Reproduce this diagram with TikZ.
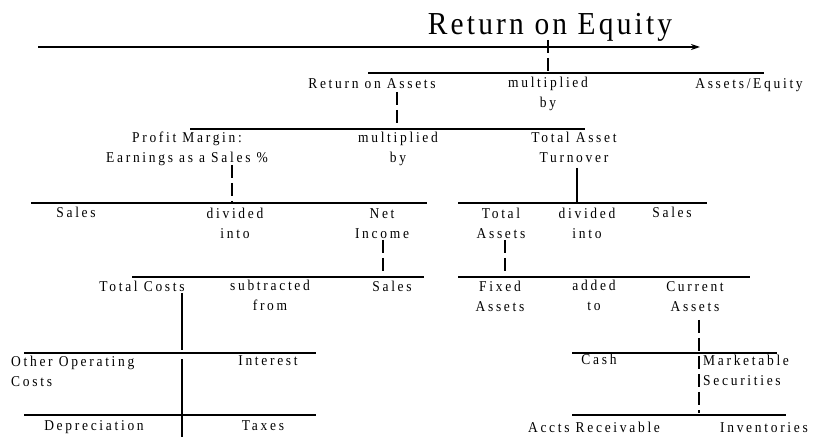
\documentclass[tikz,border=0pt]{standalone}
\usepackage{fontspec}
\setmainfont{Liberation Serif}
\newfontfamily\lblfont[LetterSpace=18,FakeStretch=0.9]{Liberation Serif}
\newfontfamily\ttlfont[LetterSpace=10,FakeStretch=0.92]{Liberation Serif}
\usetikzlibrary{arrows.meta}
\begin{document}
\begin{tikzpicture}[x=1pt,y=-1pt,
  lbl/.style={inner sep=0pt, anchor=base, align=center, font=\lblfont\fontsize{15}{20}\selectfont},
  lbll/.style={lbl, anchor=base west, align=left},
  ttl/.style={inner sep=0pt, anchor=base, font=\ttlfont\fontsize{32}{36}\selectfont},
  bar/.style={line width=2.7pt},
  solidlink/.style={line width=2.5pt},
  dashlink/.style={line width=2.5pt, dash pattern=on 13pt off 5pt},
  axis/.style={line width=1.6pt, -{Stealth[length=9pt,width=6pt]}}]
\useasboundingbox (0,0) rectangle (817,438);

% title and arrow
\node[ttl] (roe) at (550,35) {Return on Equity};
\coordinate (axl) at (38,47);
\coordinate (axr) at (700,47);
\draw[axis] (axl) -- (axr);

% bars
\coordinate (b1w) at (368,73);  \coordinate (b1e) at (764,73);
\coordinate (b2w) at (190,129); \coordinate (b2e) at (585,129);
\coordinate (b3w) at (31,203);  \coordinate (b3e) at (427,203);
\coordinate (b4w) at (458,203); \coordinate (b4e) at (707,203);
\coordinate (b5w) at (132,277); \coordinate (b5e) at (424,277);
\coordinate (b6w) at (458,277); \coordinate (b6e) at (750,277);
\coordinate (b7w) at (24,353);  \coordinate (b7e) at (316,353);
\coordinate (b8w) at (24,415);  \coordinate (b8e) at (316,415);
\coordinate (b9w) at (572,353); \coordinate (b9e) at (777,353);
\coordinate (b10w) at (572,415); \coordinate (b10e) at (786,415);
\foreach \b in {1,...,10} \draw[bar] (b\b w) -- (b\b e);

% labels (two-line nodes are placed at the baseline of their last line)
% row A
\node[lbl] (roa) at (372,89) {Return on Assets};
\node[lbl] (mulA) at (548,108) {multiplied\\by};
\node[lbl] (ae) at (749,89) {Assets/Equity};
% row B
\node[lbl] (pm) at (187,163) {Profit Margin:\\Earnings as a Sales \%};
\node[lbl] (mulB) at (398,163) {multiplied\\by};
\node[lbl] (tat) at (574,163) {Total Asset\\Turnover};
% row C
\node[lbl] (salesC) at (76,218) {Sales};
\node[lbl] (divC) at (235,239) {divided\\into};
\node[lbl] (ni) at (382,239) {Net\\Income};
\node[lbl] (ta) at (501,239) {Total\\Assets};
\node[lbl] (divD) at (587,239) {divided\\into};
\node[lbl] (salesD) at (672,218) {Sales};
% row D
\node[lbl] (tc) at (142,292) {Total Costs};
\node[lbl] (sub) at (270,311) {subtracted\\from};
\node[lbl] (salesE) at (392,292) {Sales};
\node[lbl] (fa) at (500,312) {Fixed\\Assets};
\node[lbl] (add) at (594,311) {added\\to};
\node[lbl] (ca) at (695,312) {Current\\Assets};
% row E
\node[lbll] (ooc) at (11,386) {Other Operating\\Costs};
\node[lbl] (int) at (268,366) {Interest};
\node[lbl] (cash) at (599,365) {Cash};
\node[lbll] (ms) at (703,385) {Marketable\\Securities};
% row F
\node[lbl] (dep) at (94,431) {Depreciation};
\node[lbl] (tax) at (263,431) {Taxes};
\node[lbl] (ar) at (594,432) {Accts Receivable};
\node[lbl] (inv) at (764,432) {Inventories};

% connectors
\coordinate (v1t) at (548,40);  \coordinate (v1b) at (548,73);
\coordinate (v2t) at (397,92);  \coordinate (v2b) at (397,129);
\coordinate (v3t) at (232,165); \coordinate (v3b) at (232,203);
\coordinate (v4t) at (577,168); \coordinate (v4b) at (577,203);
\coordinate (v5t) at (383,240); \coordinate (v5b) at (383,277);
\coordinate (v6t) at (505,240); \coordinate (v6b) at (505,277);
\coordinate (v7t) at (182,293); \coordinate (v7b) at (182,350);
\coordinate (v8t) at (182,359); \coordinate (v8b) at (182,437);
\coordinate (v9t) at (699,320); \coordinate (v9b) at (699,413);
\draw[dashlink] (v1t) -- (v1b);
\draw[dashlink] (v2t) -- (v2b);
\draw[dashlink] (v3t) -- (v3b);
\draw[solidlink] (v4t) -- (v4b);
\draw[dashlink] (v5t) -- (v5b);
\draw[dashlink] (v6t) -- (v6b);
\draw[solidlink] (v7t) -- (v7b);
\draw[solidlink] (v8t) -- (v8b);
\draw[dashlink] (v9t) -- (v9b);
\end{tikzpicture}
\end{document}
